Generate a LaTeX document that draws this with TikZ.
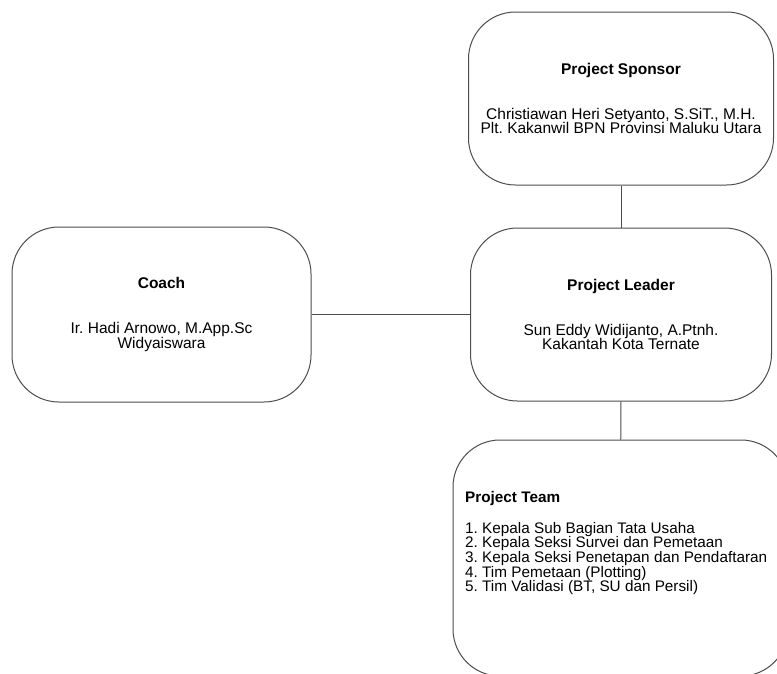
\documentclass[tikz,border=0pt]{standalone}
\usepackage{fontspec}
\setmainfont{Liberation Sans}
\usetikzlibrary{calc}
\frenchspacing
\newcommand{\boxfont}[1]{\fontsize{#1}{14.6}\selectfont\lineskiplimit=-10pt\relax}

\begin{document}
\begin{tikzpicture}[x=1pt, y=-1pt,
		box/.style={draw=black!70, line width=1pt, rounded corners=47pt, align=center, inner sep=0pt, font=\boxfont{15.5}},
		link/.style={draw=black!70, line width=1pt}]
		%%%%% START %%%%%
		
		\useasboundingbox (0, 0) rectangle (777, 673);
		\clip (0, 0) rectangle (777, 673);
		
		\node[box, minimum width=305pt, minimum height=173pt] (sponsor) at (621, 98.5) {\textbf{Project Sponsor}\\[30.5pt]Christiawan Heri Setyanto, S.SiT., M.H.\\Plt. Kakanwil BPN Provinsi Maluku Utara};
		\node[box, minimum width=301pt, minimum height=173pt] (leader) at (621, 314.5) {\textbf{Project Leader}\\[30.5pt]Sun Eddy Widijanto, A.Ptnh.\\Kakantah Kota Ternate};
		\node[box, minimum width=299pt, minimum height=175pt] (coach) at (161.5, 314.5) {\textbf{Coach}\\[30.5pt]Ir. Hadi Arnowo, M.App.Sc\\Widyaiswara};
		
		\node[box, minimum width=335pt, minimum height=236pt] (team) at (620.5, 558) {};
		\node[align=left, inner sep=0pt, anchor=north west, font=\boxfont{15.3}] (teamtxt) at (465, 491) {\textbf{Project Team}\\[16.4pt]1. Kepala Sub Bagian Tata Usaha\\2. Kepala Seksi Survei dan Pemetaan\\3. Kepala Seksi Penetapan dan Pendaftaran\\4. Tim Pemetaan (Plotting)\\5. Tim Validasi (BT, SU dan Persil)};
		
		\draw[link] (sponsor) -- (leader);
		\draw[link] (coach) -- (leader);
		\draw[link] (leader) -- (team);
		
		%%%%% END %%%%%
\end{tikzpicture}
\end{document}
